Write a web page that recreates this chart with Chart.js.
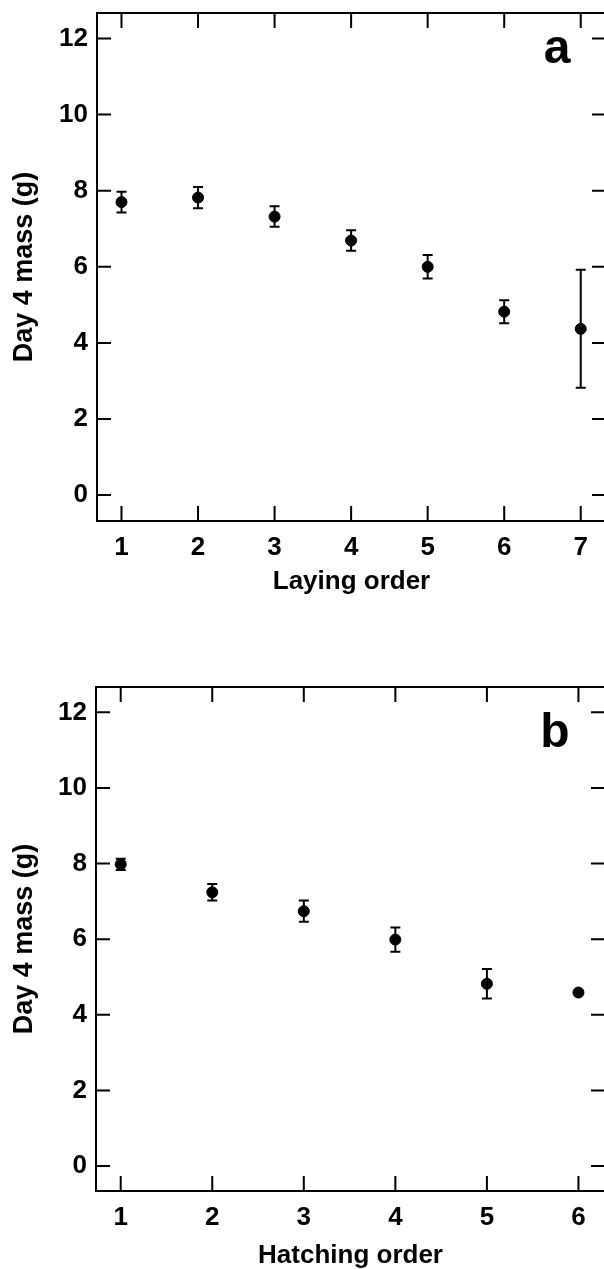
<!DOCTYPE html>
<html lang="en">
<head>
    <meta charset="UTF-8">
    <title>Day 4 mass by laying and hatching order</title>
    <script src="https://cdn.jsdelivr.net/npm/chart.js@4.4.1/dist/chart.umd.min.js"></script>
    <style>
        html, body {
            margin: 0;
            padding: 0;
            background: #fff;
            overflow: hidden;
            width: 604px;
            height: 1269px;
        }
        canvas {
            position: absolute;
            left: 0;
        }
        #chartA { top: 0; }
        #chartB { top: 674px; }
    </style>
</head>
<body>
    <canvas id="chartA" width="620" height="597"></canvas>
    <canvas id="chartB" width="620" height="597"></canvas>

    <script>
        // panel a - laying order
        const layingOrder = [1, 2, 3, 4, 5, 6, 7];
        const layingMass = [7.70, 7.82, 7.32, 6.69, 6.00, 4.82, 4.37];
        const layingErr = [0.27, 0.28, 0.27, 0.27, 0.31, 0.30, 1.55];

        // panel b - hatching order
        const hatchingOrder = [1, 2, 3, 4, 5, 6];
        const hatchingMass = [7.98, 7.24, 6.74, 5.99, 4.82, 4.59];
        const hatchingErr = [0.15, 0.22, 0.28, 0.32, 0.39, 0];

        const massTicks = [0, 2, 4, 6, 8, 10, 12];

        const FONT = '"Liberation Sans", Arial, Helvetica, sans-serif';

        // box, inward ticks on all four sides, error bars and the panel letter
        const framePlugin = {
            id: 'frame',
            beforeDatasetsDraw(chart, args, opts) {
                const ctx = chart.ctx;
                const a = chart.chartArea;
                const x = chart.scales.x;
                const y = chart.scales.y;
                ctx.save();
                ctx.strokeStyle = '#000';
                ctx.lineWidth = 2;
                ctx.strokeRect(a.left, a.top, a.right - a.left, a.bottom - a.top);

                ctx.beginPath();
                x.ticks.forEach(t => {
                    const px = x.getPixelForValue(t.value);
                    ctx.moveTo(px, a.bottom);
                    ctx.lineTo(px, a.bottom - 15);
                    ctx.moveTo(px, a.top);
                    ctx.lineTo(px, a.top + 15);
                });
                y.ticks.forEach(t => {
                    const py = y.getPixelForValue(t.value);
                    ctx.moveTo(a.left, py);
                    ctx.lineTo(a.left + 14, py);
                    ctx.moveTo(a.right, py);
                    ctx.lineTo(a.right - 14, py);
                });
                ctx.stroke();

                const ds = chart.data.datasets[0];
                ctx.beginPath();
                ds.data.forEach((p, i) => {
                    const e = ds.errors[i];
                    if (!e) return;
                    const px = x.getPixelForValue(p.x);
                    const hi = y.getPixelForValue(p.y + e);
                    const lo = y.getPixelForValue(p.y - e);
                    ctx.moveTo(px, hi);
                    ctx.lineTo(px, lo);
                    ctx.moveTo(px - 5, hi);
                    ctx.lineTo(px + 5, hi);
                    ctx.moveTo(px - 5, lo);
                    ctx.lineTo(px + 5, lo);
                });
                ctx.stroke();

                ctx.fillStyle = '#000';
                ctx.font = 'bold 48px ' + FONT;
                ctx.textAlign = 'center';
                ctx.textBaseline = 'alphabetic';
                ctx.fillText(opts.letter, opts.lx, opts.ly);
                ctx.restore();
            }
        };

        function makePanel(canvasId, cfg) {
            const points = cfg.xs.map((v, i) => ({ x: v, y: cfg.ys[i] }));
            return new Chart(document.getElementById(canvasId), {
                type: 'scatter',
                data: {
                    datasets: [{
                        data: points,
                        errors: cfg.errs,
                        backgroundColor: '#000',
                        borderColor: '#000',
                        pointRadius: 5.5,
                        pointHoverRadius: 5.5
                    }]
                },
                plugins: [framePlugin],
                options: {
                    responsive: false,
                    animation: false,
                    layout: {
                        padding: { top: 13, right: cfg.padRight, bottom: 0, left: 0 }
                    },
                    plugins: {
                        legend: { display: false },
                        tooltip: { enabled: false },
                        frame: { letter: cfg.letter, lx: cfg.lx, ly: cfg.ly }
                    },
                    scales: {
                        x: {
                            type: 'linear',
                            min: cfg.xMin,
                            max: cfg.xMax,
                            afterBuildTicks: s => { s.ticks = cfg.xs.map(v => ({ value: v })); },
                            afterFit: s => {
                                s.height = cfg.xHeight;
                                s.paddingLeft = 0;
                                s.paddingRight = 0;
                            },
                            grid: { display: false, drawTicks: false },
                            border: { display: false },
                            ticks: {
                                padding: 11,
                                color: '#000',
                                font: { family: FONT, size: 26, weight: 'bold' }
                            },
                            title: {
                                display: true,
                                text: cfg.xTitle,
                                color: '#000',
                                padding: 0,
                                font: { family: FONT, size: 26, weight: 'bold' }
                            }
                        },
                        y: {
                            min: cfg.yMin,
                            max: 12.67,
                            afterBuildTicks: s => { s.ticks = massTicks.map(v => ({ value: v })); },
                            afterFit: s => {
                                s.width = cfg.yWidth;
                                s.paddingTop = 0;
                                s.paddingBottom = 0;
                            },
                            grid: { display: false, drawTicks: false },
                            border: { display: false },
                            ticks: {
                                padding: 9,
                                color: '#000',
                                font: { family: FONT, size: 26, weight: 'bold' }
                            },
                            title: {
                                display: true,
                                text: 'Day 4 mass (g)',
                                color: '#000',
                                padding: { top: 8, bottom: 0 },
                                font: { family: FONT, size: 27, weight: 'bold' }
                            }
                        }
                    }
                }
            });
        }

        makePanel('chartA', {
            xs: layingOrder, ys: layingMass, errs: layingErr,
            xMin: 0.68, xMax: 7.33, yMin: -0.68,
            xTitle: 'Laying order',
            yWidth: 97, xHeight: 76, padRight: 14,
            letter: 'a', lx: 557, ly: 63
        });

        makePanel('chartB', {
            xs: hatchingOrder, ys: hatchingMass, errs: hatchingErr,
            xMin: 0.73, xMax: 6.29, yMin: -0.66,
            xTitle: 'Hatching order',
            yWidth: 96, xHeight: 80, padRight: 15,
            letter: 'b', lx: 555, ly: 73
        });
    </script>
</body>
</html>
